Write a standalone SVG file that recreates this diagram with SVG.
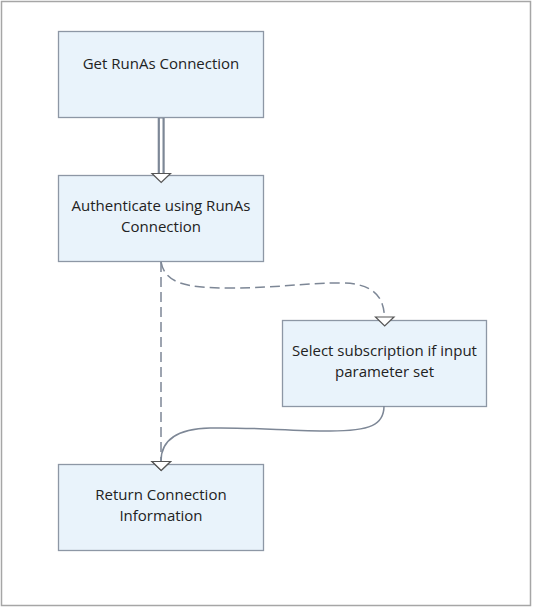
<svg xmlns="http://www.w3.org/2000/svg" width="533" height="608" viewBox="0 0 533 608">
<style>
.node rect{fill:#e9f3fb;stroke:#8d97a5;stroke-width:1.3}
.node text{font-family:"Open Sans","Noto Sans",sans-serif;font-size:15px;fill:#222;text-anchor:middle}
.conn{fill:none;stroke:#7d8796;stroke-width:1.5}
.dash{stroke-dasharray:10,5}
.arrow{fill:#fff;stroke:#555;stroke-width:1.2}
</style>
<rect x="1.5" y="1.5" width="529" height="604" fill="#fff" stroke="#a6a6a6" stroke-width="1.5"/>
<g id="n1" class="node">
<rect x="58.5" y="31.5" width="205" height="86"/>
<text x="161" y="68.5">Get RunAs Connection</text>
</g>
<g id="n2" class="node">
<rect x="58.5" y="175.5" width="205" height="86"/>
<text x="161" y="210.5">Authenticate using RunAs</text>
<text x="161" y="232">Connection</text>
</g>
<g id="n3" class="node">
<rect x="282.5" y="320.5" width="204" height="86"/>
<text x="384.5" y="355.5">Select subscription if input</text>
<text x="384.5" y="377">parameter set</text>
</g>
<g id="n4" class="node">
<rect x="58.5" y="464.5" width="205" height="86"/>
<text x="161" y="499.5">Return Connection</text>
<text x="161" y="521">Information</text>
</g>
<g id="connectors">
<line x1="161.2" y1="118" x2="161.2" y2="174" stroke="#7d8796" stroke-width="7"/>
<line x1="161.2" y1="118.5" x2="161.2" y2="175" stroke="#fff" stroke-width="2.6"/>
<path class="arrow" d="M152,173.5 L170.5,173.5 L161.2,182.5 Z"/>
<path class="conn dash" d="M161,262 L161,462"/>
<path class="arrow" d="M152,461.5 L170.5,461.5 L161.2,470.5 Z"/>
<path class="conn dash" d="M161,262 C165,283 185,288 230,288 C280,288 300,283 340,283 C375,283 384,298 384.5,318"/>
<path class="arrow" d="M375.5,317 L394,317 L384.7,326 Z"/>
<path class="conn" d="M384,406 C384,425 370,431 330,431 C290,431 250,427 210,428 C172,429 161,443 161,461"/>
<path class="arrow" d="M152,461.5 L170.5,461.5 L161.2,470.5 Z"/>
</g>
</svg>
